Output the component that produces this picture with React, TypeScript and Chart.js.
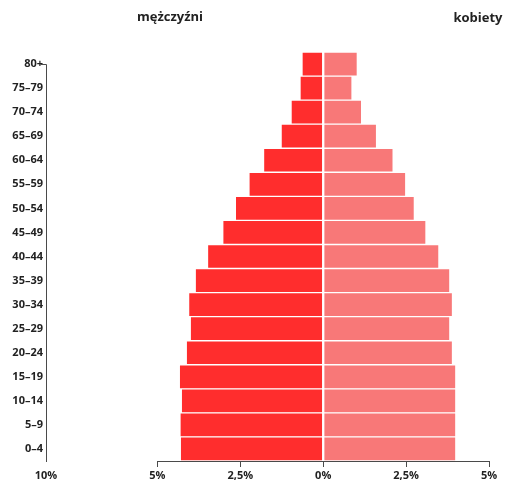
import React, { useEffect, useRef } from "react";
import { Chart, registerables } from "chart.js";

Chart.register(...registerables);

const ageGroups = ["80+", "75–79", "70–74", "65–69", "60–64", "55–59", "50–54", "45–49", "40–44", "35–39", "30–34", "25–29", "20–24", "15–19", "10–14", "5–9", "0–4"];
const malePct = [0.64, 0.70, 0.97, 1.27, 1.80, 2.24, 2.65, 3.03, 3.49, 3.86, 4.06, 4.01, 4.13, 4.34, 4.28, 4.32, 4.31];
const femalePct = [1.03, 0.87, 1.16, 1.61, 2.11, 2.49, 2.75, 3.10, 3.49, 3.82, 3.90, 3.82, 3.90, 4.00, 4.00, 4.00, 4.00];
const xTickValues = [-5, -2.5, 0, 2.5, 5];
const xTickLabels = ["5%", "2,5%", "0%", "2,5%", "5%"];
const farLeftValue = -8.36;
const farLeftLabel = "10%";
const maleTitle = "mężczyźni";
const femaleTitle = "kobiety";

const FONT = "'Open Sans', 'Noto Sans', sans-serif";
const AXIS_COLOR = "#4a4a4a";

const customAxes = {
  id: "customAxes",
  afterDraw(chart: any) {
    const ctx = chart.ctx;
    const x = chart.scales.x;
    const y = chart.scales.y;
    const area = chart.chartArea;
    ctx.save();
    ctx.strokeStyle = AXIS_COLOR;
    ctx.lineWidth = 1;
    // x axis line from -5 to 5
    ctx.beginPath();
    ctx.moveTo(x.getPixelForValue(-5), Math.round(area.bottom) + 0.5);
    ctx.lineTo(x.getPixelForValue(5), Math.round(area.bottom) + 0.5);
    ctx.stroke();
    // y axis line from first category centre to bottom, with a tick at the top
    const lx = Math.round(area.left) + 0.5;
    const ty = Math.round(y.getPixelForValue(0)) + 0.5;
    ctx.beginPath();
    ctx.moveTo(lx - 6, ty);
    ctx.lineTo(lx, ty);
    ctx.lineTo(lx, area.bottom + 1);
    ctx.stroke();
    // titles
    ctx.fillStyle = "#222";
    ctx.font = `bold 13px ${FONT}`;
    ctx.textAlign = "center";
    ctx.textBaseline = "middle";
    ctx.fillText(maleTitle, 170, 17);
    ctx.fillText(femaleTitle, 478, 18);
    ctx.restore();
  },
};

export default function App() {
  const ref = useRef<HTMLCanvasElement | null>(null);
  useEffect(() => {
    if (!ref.current) return;
    const chart = new Chart(ref.current, {
      type: "bar",
      data: {
        labels: ageGroups,
        datasets: [
          {
            label: maleTitle,
            data: malePct.map((v) => -v),
            backgroundColor: "#ff2d2d",
            borderColor: "rgba(255,255,255,0.45)",
            borderWidth: 1,
            borderSkipped: false,
            barPercentage: 1,
            categoryPercentage: 1,
          },
          {
            label: femaleTitle,
            data: femalePct,
            backgroundColor: "#f87878",
            borderColor: "rgba(255,255,255,0.45)",
            borderWidth: 1,
            borderSkipped: false,
            barPercentage: 1,
            categoryPercentage: 1,
          },
        ],
      },
      options: {
        indexAxis: "y",
        animation: false,
        responsive: false,
        maintainAspectRatio: false,
        layout: { padding: { top: 52, right: 20, left: 0, bottom: 0 } },
        plugins: { legend: { display: false }, tooltip: { enabled: false } },
        scales: {
          x: {
            stacked: true,
            min: farLeftValue,
            max: 5,
            afterBuildTicks: (scale: any) => {
              scale.ticks = [{ value: farLeftValue }, ...xTickValues.map((v) => ({ value: v }))];
            },
            afterFit: (scale: any) => {
              scale.height = 22;
            },
            border: { display: false },
            grid: {
              drawOnChartArea: false,
              drawTicks: true,
              tickLength: 6,
              color: (c: any) => (c.index === 0 ? "rgba(0,0,0,0)" : AXIS_COLOR),
            },
            ticks: {
              autoSkip: false,
              maxRotation: 0,
              padding: 2,
              color: "#222",
              font: { family: FONT, size: 11, weight: "bold" },
              callback: (value: any, index: number) =>
                index === 0 ? farLeftLabel : xTickLabels[index - 1],
            },
          },
          y: {
            stacked: true,
            afterFit: (scale: any) => {
              scale.width = 46;
            },
            border: { display: false },
            grid: { display: false, drawTicks: false },
            ticks: {
              autoSkip: false,
              padding: 3,
              color: "#222",
              font: { family: FONT, size: 11, weight: "bold" },
            },
          },
        },
      },
      plugins: [customAxes],
    });
    return () => chart.destroy();
  }, []);
  return (
    <div style={{ position: "absolute", left: 0, top: 0, width: 509, height: 483, background: "#fff" }}>
      <canvas ref={ref} width={509} height={483} style={{ display: "block" }} />
    </div>
  );
}
